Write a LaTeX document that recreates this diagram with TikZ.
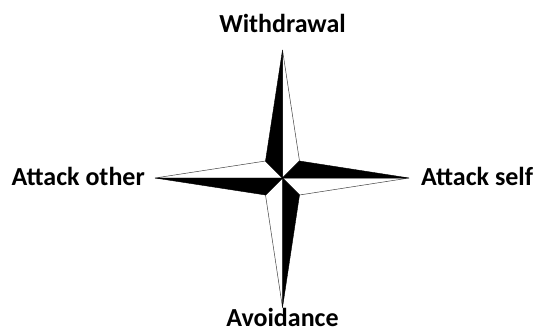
\documentclass[tikz,border=0pt]{standalone}
\usepackage{fontspec}
\setmainfont{Carlito}
\begin{document}
\begin{tikzpicture}[x=1pt,y=-1pt,
  lbl/.style={inner sep=0pt, font=\bfseries\fontsize{26}{30}\selectfont},
  blk/.style={fill=black, draw=black, line width=0.4pt},
  wht/.style={fill=white, draw=black!75, line width=0.5pt}]
\useasboundingbox (0,0) rectangle (533,333);
\coordinate (C) at (282.5,178);
\coordinate (N) at (282.5,50);
\coordinate (S) at (282.5,307.5);
\coordinate (W) at (155,178);
\coordinate (E) at (409,178);
\coordinate (NW) at (265.5,161);
\coordinate (NE) at (299.5,161);
\coordinate (SE) at (299.5,195);
\coordinate (SW) at (265.5,195);
% white halves
\draw[wht] (N) -- (NE) -- (C) -- cycle;
\draw[wht] (E) -- (SE) -- (C) -- cycle;
\draw[wht] (S) -- (SW) -- (C) -- cycle;
\draw[wht] (W) -- (NW) -- (C) -- cycle;
% black halves
\draw[blk] (N) -- (NW) -- (C) -- cycle;
\draw[blk] (E) -- (NE) -- (C) -- cycle;
\draw[blk] (S) -- (SE) -- (C) -- cycle;
\draw[blk] (W) -- (SW) -- (C) -- cycle;
% labels
\node[lbl, anchor=base] (tw) at (282.5,32) {Withdrawal};
\node[lbl, anchor=base, text depth=0pt] (ta) at (282.5,326.5) {Avoidance};
\node[lbl, anchor=base east] (to) at (145,185.5) {Attack other};
\node[lbl, anchor=base west] (ts) at (421,185.5) {Attack self};
\end{tikzpicture}
\end{document}
